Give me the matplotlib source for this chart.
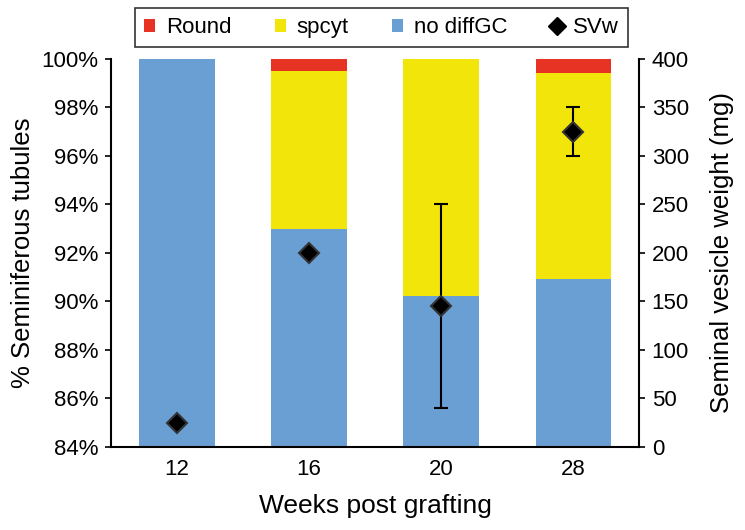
import numpy as np
import matplotlib.pyplot as plt
from matplotlib.lines import Line2D
from matplotlib.patches import Patch

plt.rcParams["font.family"] = ["Liberation Sans", "DejaVu Sans"]

weeks = ["12", "16", "20", "28"]
no_diff_gc = [100.0, 93.0, 90.2, 90.9]
spcyt = [0.0, 6.5, 9.8, 8.5]
round_sp = [0.0, 0.5, 0.0, 0.6]
sv_weight = [25, 200, 145, 325]
sv_err_low = [0, 0, 105, 25]
sv_err_high = [0, 0, 105, 25]

blue = "#6A9FD3"
yellow = "#F2E50A"
red = "#E63323"

fig = plt.figure(figsize=(7.45, 5.3), dpi=100)
ax = fig.add_axes([0.149, 0.157, 0.709, 0.732])

x = np.arange(len(weeks))
base = 84.0
width = 0.57
blue_h = np.array(no_diff_gc) - base
ax.bar(x, blue_h, width, bottom=base, color=blue, zorder=2)
ax.bar(x, spcyt, width, bottom=np.array(no_diff_gc), color=yellow, zorder=2)
ax.bar(x, round_sp, width, bottom=np.array(no_diff_gc) + np.array(spcyt), color=red, zorder=2)

ax.set_ylim(84, 100)
ax.set_xlim(-0.5, 3.5)
ax.set_yticks(np.arange(84, 101, 2))
ax.set_yticklabels([f"{v}%" for v in range(84, 101, 2)])
ax.set_xticks(x)
ax.set_xticklabels(weeks)
ax.tick_params(axis="x", length=0, labelsize=16, pad=9)
ax.tick_params(axis="y", labelsize=16, direction="out", length=4, width=1.2, pad=5)
ax.spines["top"].set_visible(False)
ax.spines["right"].set_visible(False)
for s in ["left", "bottom"]:
    ax.spines[s].set_linewidth(1.5)
ax.set_ylabel("% Seminiferous tubules", fontsize=18.5, labelpad=5)
ax.set_xlabel("Weeks post grafting", fontsize=19, labelpad=10)

ax2 = ax.twinx()
ax2.set_ylim(0, 400)
ax2.set_yticks(np.arange(0, 401, 50))
ax2.tick_params(axis="y", labelsize=16, direction="out", length=4, width=1.2, pad=5)
ax2.spines["top"].set_visible(False)
ax2.spines["left"].set_visible(False)
ax2.spines["bottom"].set_visible(False)
ax2.spines["right"].set_linewidth(1.5)
ax2.set_ylabel("Seminal vesicle weight (mg)", fontsize=18.5, labelpad=15)

ax2.errorbar(x, sv_weight, yerr=[sv_err_low, sv_err_high], fmt="none",
             ecolor="black", elinewidth=1.5, capsize=5, capthick=1.5, zorder=3)
ax2.plot(x, sv_weight, linestyle="none", marker="D", markersize=10,
         markerfacecolor="black", markeredgecolor="#333333", markeredgewidth=1.5, zorder=4)

handles = [
    Patch(facecolor=red, label="Round"),
    Patch(facecolor=yellow, label="spcyt"),
    Patch(facecolor=blue, label="no diffGC"),
    Line2D([], [], linestyle="none", marker="D", markersize=9, color="black", label="SVw"),
]
leg = ax.legend(handles=handles, ncol=4, loc="lower left",
                bbox_to_anchor=(0.045, 1.03, 0.934, 0.1), mode="expand",
                frameon=True, fancybox=False, fontsize=16, handlelength=0.5,
                handleheight=0.5, handletextpad=0.5, borderaxespad=0,
                borderpad=0.4)
leg.get_frame().set_edgecolor("black")
leg.get_frame().set_linewidth(1.2)

fig.savefig("out.png", dpi=100)
